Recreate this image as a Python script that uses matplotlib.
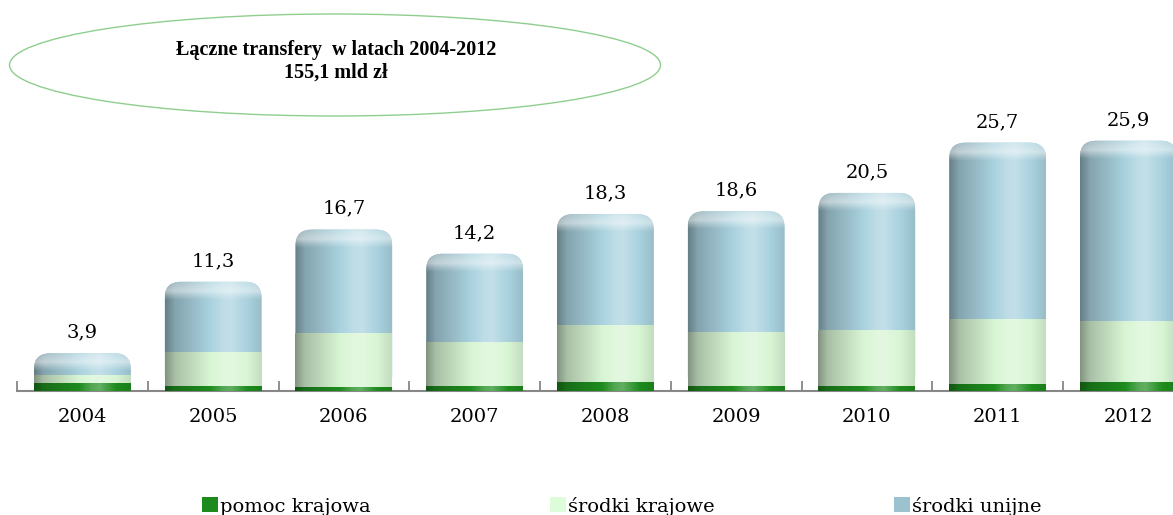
import numpy as np
import matplotlib.pyplot as plt
from matplotlib.patches import FancyBboxPatch, Ellipse, Patch
from matplotlib.colors import to_rgb

plt.rcParams['font.family'] = ['DejaVu Serif']

# data (mld zł)
years = ['2004', '2005', '2006', '2007', '2008', '2009', '2010', '2011', '2012']
pomoc_krajowa = [0.8, 0.5, 0.4, 0.5, 0.9, 0.5, 0.5, 0.7, 0.9]
srodki_krajowe = [0.9, 3.5, 5.6, 4.6, 5.9, 5.6, 5.8, 6.8, 6.3]
srodki_unijne = [2.2, 7.3, 10.7, 9.1, 11.5, 12.5, 14.2, 18.2, 18.7]
totals = [3.9, 11.3, 16.7, 14.2, 18.3, 18.6, 20.5, 25.7, 25.9]
labels = ['pomoc krajowa', 'środki krajowe', 'środki unijne']

c_green = '#1E8C1E'
c_light = '#D8F5D4'
c_blue = '#A9D2DF'

W, H = 1173, 515
fig = plt.figure(figsize=(W / 100, H / 100), dpi=100)
ax = fig.add_axes([17 / W, 124 / H, 1176.75 / W, 270.5 / H])

x = np.arange(len(years))
w = 0.74
b1 = ax.bar(x, pomoc_krajowa, w, color=c_green, zorder=4)
bot2 = np.array(pomoc_krajowa)
b2 = ax.bar(x, srodki_krajowe, w, bottom=bot2, color=c_light, zorder=3)
bot3 = bot2 + np.array(srodki_krajowe)
b3 = ax.bar(x, srodki_unijne, w, bottom=bot3, color=c_blue, zorder=2)

ax.set_xlim(-0.5, 8.5)
ax.set_ylim(0, 28)

# pixel size of one data unit
px_x = ax.bbox.width / 9
px_y = ax.bbox.height / 28
rx = 16 / px_x
ry = 16 / px_y

# horizontal cylinder shading
t = np.linspace(0, 1, 240)
m = np.interp(t, [0, .1, .4, .6, .68, .85, 1], [0.6, 0.78, 0.96, 1.08, 1.1, 1.0, 0.9])


def grad_img(base):
    c = np.array(to_rgb(base))
    mm = m[:, None]
    img = np.where(mm <= 1, c * mm, c + (1 - c) * (mm - 1) * 3)
    return np.clip(img, 0, 1)[None, :, :]


def shade(rect_patch, base, x0, x1, y0, y1, z):
    im = ax.imshow(grad_img(base), extent=[x0, x1, y0, y1], aspect='auto',
                   interpolation='bilinear', zorder=z)
    im.set_clip_path(rect_patch)


for r in b1:
    shade(r, c_green, r.get_x(), r.get_x() + w, r.get_y(), r.get_y() + r.get_height(), 4.1)
for r in b2:
    shade(r, c_light, r.get_x(), r.get_x() + w, r.get_y(), r.get_y() + r.get_height(), 3.1)

# top segment with rounded cap
cap_d = np.linspace(0, 24, 60)
cap_a = np.interp(cap_d, [0, 4, 9, 14, 18, 24], [0.3, 0.4, 0.5, 0.2, 0.0, 0.0])
cap = np.ones((60, 1, 4))
cap[:, 0, 3] = cap_a
for r in b3:
    x0 = r.get_x()
    top = r.get_y() + r.get_height()
    p = FancyBboxPatch((x0, 0), w, top, boxstyle=f"round,pad=0,rounding_size={rx}",
                       mutation_aspect=ry / rx, fc=c_blue, ec='none', zorder=2)
    ax.add_patch(p)
    r.set_visible(False)
    shade(p, c_blue, x0, x0 + w, 0, top, 2.1)
    im = ax.imshow(cap, extent=[x0, x0 + w, top - 24 / px_y, top], aspect='auto',
                   interpolation='bilinear', zorder=2.2)
    im.set_clip_path(p)

ax.set_xlim(-0.5, 8.5)
ax.set_ylim(0, 28)

# value labels
for xi, tot in zip(x, totals):
    ax.annotate(f"{tot:.1f}".replace('.', ','), (xi, tot), xytext=(0, 15),
                textcoords='offset points', ha='center', va='center', fontsize=14)

# axis styling
for s in ['left', 'right', 'top']:
    ax.spines[s].set_visible(False)
ax.spines['bottom'].set_color('#878787')
ax.spines['bottom'].set_linewidth(1.5)
ax.set_yticks([])
ax.set_xticks(x, years)
ax.set_xticks(np.arange(-0.5, 9, 1), minor=True)
ax.tick_params(axis='x', which='major', length=0, pad=12, labelsize=14)
ax.tick_params(axis='x', which='minor', direction='in', length=7, width=1.3, color='#878787')
ax.patch.set_visible(False)

# ellipse with total
e = Ellipse((335 / W, 1 - 65 / H), 651 / W, 102 / H, transform=fig.transFigure,
            fill=False, ec='#8fce8f', lw=1.0)
fig.add_artist(e)
fig.text(336 / W, 1 - 61.5 / H, "Łączne transfery  w latach 2004-2012\n155,1 mld zł",
         ha='center', va='center', family='Liberation Serif', weight='bold',
         fontsize=14.5, linespacing=1.15)

# legend
handles = [Patch(facecolor='#1C8A1C'), Patch(facecolor='#DDFCDA'), Patch(facecolor='#9BC3CF')]
fig.legend(handles, labels, ncol=3, loc='center left', bbox_to_anchor=(202 / W, 9 / H),
           frameon=False, fontsize=14, handlelength=0.8, handleheight=0.8,
           handletextpad=0.15, columnspacing=9.2, borderpad=0, borderaxespad=0)

fig.savefig('out.png', dpi=100)
